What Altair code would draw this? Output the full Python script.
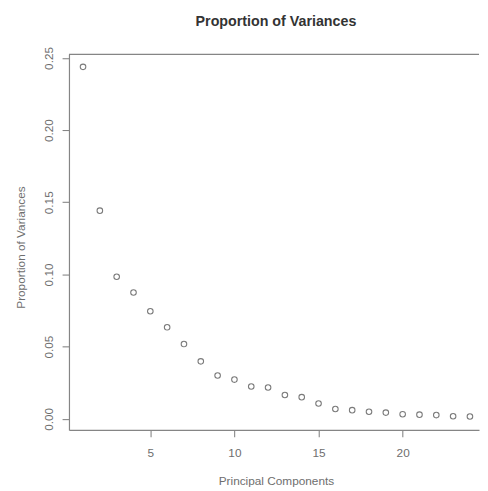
import altair as alt
import pandas as pd

# Data
components = list(range(1, 25))
proportions = [0.2438, 0.1442, 0.0984, 0.0875, 0.0745, 0.0634, 0.0518, 0.0398,
               0.0300, 0.0272, 0.0224, 0.0217, 0.0165, 0.0150, 0.0106, 0.0068,
               0.0060, 0.0049, 0.0043, 0.0032, 0.0029, 0.0026, 0.0018, 0.0016]
x_ticks = [5, 10, 15, 20]
y_ticks = [0.0, 0.05, 0.10, 0.15, 0.20, 0.25]

df = pd.DataFrame({"pc": components, "prop": proportions})

W, H = 417, 382
FONT = "Liberation Sans"
LINE = "#858585"

points = alt.Chart(df).mark_point(
    shape="circle", filled=False, size=32, strokeWidth=1.1, color="#7a7a7a", opacity=1
).encode(
    x=alt.X("pc:Q",
            scale=alt.Scale(domain=[0.164, 24.54], nice=False, zero=False),
            axis=alt.Axis(values=x_ticks, title="Principal Components",
                          labelBaseline="alphabetic", labelPadding=20,
                          titleBaseline="alphabetic", titleY=55, titleX=W / 2 + 2)),
    y=alt.Y("prop:Q",
            scale=alt.Scale(domain=[-0.0077, 0.2525], nice=False, zero=False),
            axis=alt.Axis(values=y_ticks, format=".2f", title="Proportion of Variances",
                          labelAngle=270, labelAlign="center", labelBaseline="alphabetic",
                          labelPadding=9.5, titleAngle=270, titleBaseline="alphabetic",
                          titleAlign="center", titleX=-45, titleY=H / 2 + 5)),
)

top_line = alt.Chart(pd.DataFrame({"k": [0]})).mark_rule(
    color=LINE, strokeWidth=1.2
).encode(x=alt.value(0), x2=alt.value(W), y=alt.value(0))

chart = alt.layer(points, top_line).properties(
    width=W, height=H,
    autosize=alt.AutoSizeParams(type="none"),
    padding={"left": 62, "top": 43, "right": 1, "bottom": 58},
    title=alt.TitleParams("Proportion of Variances", fontSize=14.5, fontWeight="bold",
                          font=FONT, color="#333333", anchor="middle", frame="group",
                          baseline="alphabetic", offset=6, dx=2),
    background="white",
).configure_view(stroke=None).configure_axis(
    grid=False, domainColor=LINE, domainWidth=1.2, tickColor=LINE, tickWidth=1.1,
    tickSize=7, labelFont=FONT, labelFontSize=12, labelColor="#6e6e6e",
    titleFont=FONT, titleFontSize=12, titleFontWeight="normal", titleColor="#6e6e6e",
)

chart.save("out.html", embed_options={"renderer": "svg", "actions": False})
